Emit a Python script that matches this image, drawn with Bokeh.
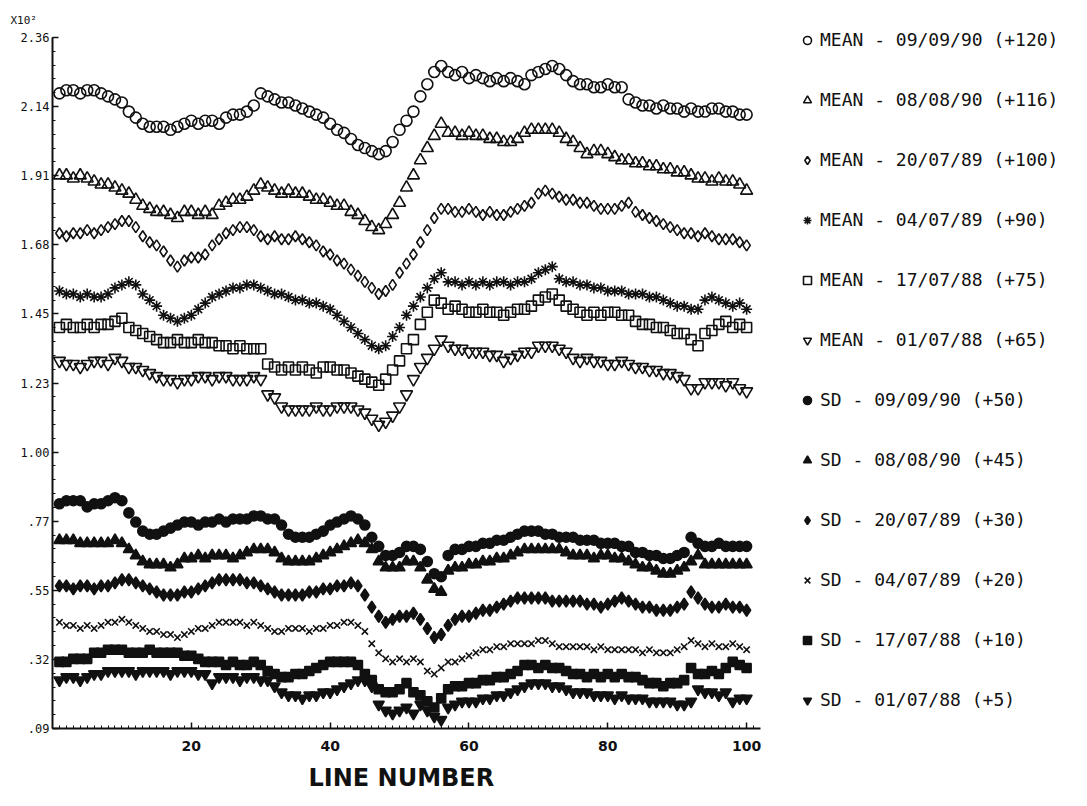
from bokeh.plotting import figure
from bokeh.models import (Range1d, FixedTicker, CustomJSTickFormatter, Legend,
                          LegendItem, ColumnDataSource, Title)
from bokeh.embed import file_html
from bokeh.resources import INLINE

# ---------------- data (values in units of x10^2) ----------------
line_number = list(range(1, 101))

mean_090990 = [2.18, 2.19, 2.19, 2.18, 2.19, 2.19, 2.18, 2.17,
               2.16, 2.15, 2.12, 2.10,
               2.08, 2.07, 2.07, 2.07, 2.06, 2.07,
               2.08, 2.09, 2.08, 2.09, 2.09, 2.08,
               2.10, 2.11, 2.11, 2.12, 2.14,
               2.18, 2.17,
               2.16, 2.15, 2.15, 2.14, 2.13, 2.12,
               2.11, 2.10, 2.08, 2.06, 2.05,
               2.03, 2.01, 2.00, 1.99, 1.98,
               1.99, 2.02, 2.06, 2.09, 2.12, 2.17, 2.21, 2.25, 2.27,
               2.25, 2.24, 2.25, 2.23, 2.24, 2.23, 2.22, 2.23, 2.22, 2.23, 2.22, 2.21,
               2.24, 2.25, 2.26, 2.27,
               2.26, 2.24, 2.22, 2.21, 2.21, 2.20, 2.20, 2.21, 2.20, 2.20,
               2.16, 2.15, 2.14,
               2.14, 2.13, 2.14, 2.13, 2.13, 2.12, 2.13, 2.12, 2.12, 2.13, 2.13, 2.12, 2.12, 2.11, 2.11]

mean_080890 = [1.91, 1.91, 1.90, 1.91, 1.90,
               1.89, 1.88, 1.88, 1.87, 1.86,
               1.85, 1.83, 1.81, 1.80,
               1.79, 1.79, 1.78, 1.77, 1.79, 1.79, 1.78, 1.79, 1.78,
               1.81, 1.82, 1.83, 1.83, 1.84, 1.86,
               1.88, 1.87,
               1.86, 1.85, 1.86, 1.85, 1.85, 1.84,
               1.83, 1.83, 1.82, 1.81, 1.81,
               1.79, 1.78, 1.76, 1.74, 1.73,
               1.75, 1.78, 1.82, 1.87, 1.91, 1.96, 2.00, 2.04, 2.08,
               2.05, 2.05, 2.04, 2.05, 2.04, 2.04, 2.03, 2.03,
               2.02, 2.02, 2.03,
               2.05, 2.06, 2.06, 2.06, 2.06, 2.05,
               2.03, 2.02, 2.00, 1.98, 1.99,
               1.99, 1.98, 1.97, 1.96, 1.96, 1.95,
               1.95, 1.94, 1.94, 1.93, 1.93, 1.92, 1.92, 1.91,
               1.90, 1.90, 1.89, 1.90, 1.89,
               1.89, 1.88, 1.86]

mean_200789 = [1.72, 1.71, 1.72,
               1.72, 1.73, 1.72, 1.73, 1.74, 1.75,
               1.76, 1.76, 1.74,
               1.71, 1.69, 1.68, 1.66,
               1.63, 1.61,
               1.63, 1.64, 1.64, 1.65,
               1.68, 1.70, 1.72, 1.73,
               1.74, 1.74, 1.73,
               1.71, 1.70, 1.71, 1.70, 1.70,
               1.71, 1.70, 1.69,
               1.68, 1.66, 1.65, 1.63, 1.62,
               1.60, 1.58, 1.56, 1.54,
               1.52, 1.53,
               1.55, 1.59, 1.62, 1.65, 1.69, 1.73, 1.77, 1.80,
               1.80, 1.79, 1.79, 1.80, 1.79, 1.78, 1.79, 1.78, 1.78, 1.79,
               1.80, 1.81, 1.82,
               1.85, 1.86,
               1.85, 1.84, 1.83, 1.83, 1.82, 1.82, 1.81, 1.80, 1.80,
               1.80, 1.81, 1.82,
               1.79, 1.78, 1.77, 1.76, 1.75, 1.74, 1.73, 1.72,
               1.72, 1.71, 1.72, 1.71, 1.70, 1.70,
               1.70, 1.69, 1.68]

mean_040789 = [1.53, 1.52, 1.52,
               1.51, 1.52, 1.51, 1.51, 1.52,
               1.54, 1.55, 1.56, 1.55,
               1.52, 1.50, 1.48,
               1.45, 1.44, 1.43, 1.44, 1.45,
               1.47, 1.49, 1.51, 1.52,
               1.53, 1.54, 1.54, 1.55, 1.55,
               1.54, 1.53, 1.52, 1.52, 1.51,
               1.50, 1.50, 1.49, 1.49, 1.48, 1.47,
               1.45, 1.43, 1.41, 1.39, 1.37, 1.35,
               1.34, 1.35,
               1.38, 1.41, 1.45, 1.48, 1.51, 1.54, 1.57, 1.59,
               1.56, 1.56, 1.55, 1.56, 1.55, 1.56, 1.55, 1.56, 1.56, 1.55, 1.56, 1.56,
               1.57, 1.59, 1.60, 1.61,
               1.57, 1.56, 1.56, 1.55, 1.55, 1.54, 1.54, 1.53,
               1.53, 1.53, 1.52, 1.52, 1.52, 1.51, 1.51, 1.50,
               1.49, 1.48, 1.48, 1.47, 1.47,
               1.50, 1.51, 1.50,
               1.49, 1.48, 1.49, 1.47]

mean_170788 = [1.41, 1.42, 1.41, 1.41, 1.42, 1.41, 1.42, 1.42,
               1.43, 1.44,
               1.41, 1.40, 1.39,
               1.38, 1.37,
               1.36, 1.36, 1.37, 1.36, 1.36, 1.37, 1.36, 1.36, 1.35,
               1.35, 1.34, 1.35, 1.34, 1.34, 1.34,
               1.29, 1.28, 1.27, 1.28, 1.27, 1.28, 1.27, 1.26,
               1.28, 1.28, 1.27, 1.27,
               1.26, 1.25, 1.24, 1.23, 1.22,
               1.24, 1.27, 1.30, 1.34, 1.37, 1.42, 1.46, 1.50, 1.49,
               1.47, 1.48, 1.47, 1.46, 1.46, 1.47, 1.46, 1.46, 1.45, 1.46, 1.47, 1.47, 1.48,
               1.50, 1.51, 1.52,
               1.50, 1.48, 1.47, 1.46, 1.45, 1.46, 1.45, 1.46, 1.46, 1.45, 1.45,
               1.43, 1.42, 1.42, 1.41, 1.41, 1.40, 1.39, 1.39, 1.37, 1.35,
               1.39, 1.40, 1.42, 1.43, 1.41, 1.42, 1.41]

mean_010788 = [1.30, 1.29, 1.29, 1.28, 1.29,
               1.30, 1.30, 1.29, 1.31,
               1.30, 1.28, 1.28, 1.27,
               1.26, 1.25, 1.24, 1.24, 1.23, 1.24, 1.24,
               1.25, 1.25, 1.24, 1.25, 1.25,
               1.24, 1.24, 1.24, 1.25, 1.24,
               1.19, 1.18,
               1.15, 1.14, 1.14, 1.14, 1.14, 1.15, 1.14, 1.14,
               1.15, 1.15, 1.15, 1.14, 1.13,
               1.11, 1.09, 1.10, 1.12,
               1.15, 1.19, 1.24, 1.28, 1.31, 1.34, 1.37,
               1.35, 1.34, 1.34, 1.33, 1.33, 1.33, 1.32, 1.32,
               1.30, 1.31, 1.32, 1.33, 1.33,
               1.35, 1.35, 1.35, 1.34,
               1.33, 1.31, 1.30, 1.31, 1.30,
               1.30, 1.29, 1.29, 1.30, 1.29, 1.28, 1.28,
               1.27, 1.27, 1.26, 1.26, 1.25, 1.24, 1.21,
               1.21, 1.23, 1.23, 1.23,
               1.22, 1.23, 1.21, 1.20]

sd_090990 = [0.83, 0.84, 0.84, 0.84,
             0.82, 0.83, 0.83,
             0.84, 0.85, 0.84,
             0.80, 0.77,
             0.74, 0.73, 0.73, 0.74,
             0.75, 0.76, 0.77, 0.77, 0.76,
             0.77, 0.77, 0.78, 0.77, 0.78, 0.78, 0.78,
             0.79, 0.79, 0.78, 0.78,
             0.76,
             0.73, 0.72, 0.72, 0.72, 0.73, 0.74,
             0.76, 0.77, 0.78, 0.79, 0.78,
             0.76, 0.72, 0.69,
             0.66, 0.66, 0.67,
             0.69, 0.69, 0.68,
             0.64, 0.60, 0.59,
             0.66, 0.68, 0.68, 0.69, 0.69, 0.70, 0.70, 0.71, 0.71,
             0.72, 0.73, 0.74, 0.74, 0.74,
             0.73, 0.73, 0.72, 0.72, 0.72, 0.71, 0.71, 0.71, 0.70, 0.70, 0.70,
             0.69, 0.69,
             0.67, 0.67, 0.66, 0.66, 0.65, 0.65, 0.66,
             0.67, 0.72, 0.70,
             0.69, 0.69, 0.70, 0.69, 0.69, 0.69, 0.69]

sd_080890 = [0.71, 0.71, 0.71, 0.70, 0.70, 0.70, 0.70, 0.70,
             0.71, 0.70,
             0.68, 0.66, 0.64,
             0.63, 0.63, 0.63, 0.62, 0.63,
             0.65, 0.65, 0.66, 0.65, 0.66, 0.66, 0.66, 0.65, 0.66, 0.67,
             0.68, 0.68, 0.68, 0.67,
             0.65, 0.64, 0.64, 0.64, 0.64, 0.65,
             0.66, 0.67, 0.68, 0.69, 0.70,
             0.71, 0.70, 0.68,
             0.64, 0.62, 0.62, 0.62,
             0.64, 0.64, 0.62,
             0.58, 0.55, 0.54,
             0.61, 0.62, 0.62, 0.63, 0.63, 0.64, 0.64, 0.65, 0.65, 0.66, 0.67,
             0.68, 0.68, 0.68, 0.68, 0.68, 0.68, 0.67,
             0.66, 0.66, 0.66, 0.65, 0.66, 0.66, 0.65, 0.65, 0.64,
             0.63, 0.62, 0.62, 0.61, 0.60, 0.60, 0.61,
             0.62, 0.64, 0.66,
             0.63, 0.63, 0.63, 0.63, 0.63, 0.63, 0.63]

sd_200789 = [0.56, 0.56, 0.55, 0.56, 0.56, 0.55, 0.56, 0.56,
             0.57, 0.58, 0.58,
             0.57, 0.56, 0.55,
             0.54, 0.53, 0.53, 0.53,
             0.54, 0.54, 0.55, 0.56,
             0.57, 0.58, 0.58, 0.58, 0.58, 0.57, 0.57,
             0.56, 0.55, 0.54, 0.53, 0.53, 0.53,
             0.53, 0.54, 0.54, 0.55, 0.55, 0.56, 0.56, 0.57,
             0.56, 0.53, 0.49, 0.46, 0.44,
             0.45, 0.46, 0.46, 0.47, 0.45,
             0.42, 0.39, 0.40, 0.43,
             0.45, 0.46, 0.46, 0.47, 0.48, 0.48, 0.49, 0.50,
             0.51, 0.52, 0.52, 0.52, 0.52, 0.52,
             0.51, 0.51, 0.51, 0.51, 0.51, 0.50, 0.50, 0.49, 0.50,
             0.51, 0.52, 0.51,
             0.50, 0.49, 0.49, 0.48, 0.48, 0.48, 0.49,
             0.50, 0.54, 0.52,
             0.50, 0.49, 0.49, 0.50, 0.49, 0.49, 0.48]

sd_040789 = [0.44, 0.43, 0.43, 0.42, 0.43, 0.42, 0.43,
             0.44, 0.44, 0.45,
             0.44, 0.43,
             0.42, 0.41, 0.41, 0.40, 0.40,
             0.39,
             0.40, 0.41, 0.42, 0.42,
             0.43, 0.44, 0.44, 0.44, 0.44, 0.43, 0.44,
             0.43, 0.42,
             0.41, 0.41, 0.42, 0.42, 0.42, 0.41, 0.42, 0.42,
             0.43, 0.43, 0.44, 0.44, 0.43,
             0.41,
             0.37, 0.34, 0.32,
             0.31, 0.32, 0.31, 0.32, 0.31,
             0.28, 0.27,
             0.29, 0.31, 0.31, 0.32, 0.33, 0.34, 0.35,
             0.35, 0.36, 0.36, 0.37, 0.37, 0.37, 0.37, 0.38,
             0.38, 0.37,
             0.36, 0.36, 0.36, 0.36, 0.36, 0.35, 0.36, 0.35, 0.35, 0.35, 0.35, 0.35,
             0.34, 0.35, 0.34, 0.34, 0.34, 0.35,
             0.36, 0.38, 0.37,
             0.36, 0.37, 0.36, 0.36, 0.37, 0.36, 0.35]

sd_170788 = [0.31, 0.31, 0.32, 0.32, 0.32,
             0.34, 0.34, 0.35, 0.35, 0.35, 0.34, 0.34, 0.34, 0.35, 0.34, 0.34, 0.34, 0.34,
             0.33, 0.33, 0.32,
             0.31, 0.31, 0.31, 0.30, 0.31, 0.30, 0.30, 0.31, 0.30,
             0.28, 0.27, 0.26, 0.26, 0.27, 0.27, 0.28,
             0.29, 0.30, 0.31, 0.31, 0.31, 0.31, 0.30,
             0.27, 0.25,
             0.22, 0.21, 0.21, 0.22, 0.24,
             0.21, 0.20, 0.18, 0.16, 0.19,
             0.22, 0.23, 0.23, 0.24, 0.24, 0.25, 0.25, 0.26, 0.26,
             0.27, 0.28,
             0.30, 0.30, 0.29, 0.30, 0.29, 0.29,
             0.28, 0.27, 0.27, 0.26, 0.27, 0.26, 0.27, 0.26, 0.27, 0.26, 0.26,
             0.25, 0.24, 0.24, 0.23, 0.24, 0.24, 0.25,
             0.29, 0.27, 0.27, 0.28, 0.27,
             0.29, 0.31, 0.30, 0.29]

sd_010788 = [0.25, 0.26, 0.26, 0.25, 0.26, 0.27,
             0.27, 0.28, 0.28, 0.28, 0.28, 0.27, 0.28, 0.28, 0.28, 0.28, 0.27, 0.28,
             0.28, 0.28, 0.27, 0.27,
             0.24, 0.26,
             0.26, 0.26, 0.25, 0.26, 0.26, 0.25, 0.25,
             0.23, 0.21, 0.20, 0.20, 0.19, 0.20, 0.20, 0.21, 0.21,
             0.22, 0.23, 0.24, 0.25, 0.25, 0.23,
             0.17, 0.15, 0.14, 0.15, 0.16, 0.14,
             0.17, 0.15, 0.13, 0.12,
             0.16, 0.17, 0.18, 0.18, 0.18, 0.19, 0.19, 0.20, 0.20,
             0.21, 0.22,
             0.23, 0.24, 0.24, 0.24, 0.23, 0.23,
             0.22, 0.21, 0.21, 0.21, 0.20, 0.20, 0.20, 0.19, 0.20, 0.19, 0.19,
             0.19, 0.18, 0.18, 0.18, 0.18, 0.17, 0.17, 0.18,
             0.22, 0.21,
             0.21, 0.20, 0.21, 0.18, 0.19, 0.19]

labels = ["MEAN - 09/09/90 (+120)", "MEAN - 08/08/90 (+116)", "MEAN - 20/07/89 (+100)",
          "MEAN - 04/07/89 (+90)", "MEAN - 17/07/88 (+75)", "MEAN - 01/07/88 (+65)",
          "SD - 09/09/90 (+50)", "SD - 08/08/90 (+45)", "SD - 20/07/89 (+30)",
          "SD - 04/07/89 (+20)", "SD - 17/07/88 (+10)", "SD - 01/07/88 (+5)"]

series = [mean_090990, mean_080890, mean_200789, mean_040789, mean_170788, mean_010788,
          sd_090990, sd_080890, sd_200789, sd_040789, sd_170788, sd_010788]

# ---------------- styles ----------------
styles = [("circle", False, 11), ("triangle", False, 12), ("diamond", False, 11),
          ("asterisk", False, 11), ("square", False, 10), ("inverted_triangle", False, 12),
          ("circle", True, 10), ("triangle", True, 11), ("diamond", True, 12),
          ("x", False, 9), ("square", True, 9), ("inverted_triangle", True, 11)]

INK = "#111111"

# layout: the frame spans from the y axis to the right edge (and a little above the
# top tick) so the legend, drawn inside the frame, is not clipped; axes are bounded.
W, H = 1087, 806
LEFT, TOP, BOTTOM = 52, 26, 78
AXIS_TOP_PX = 37                 # pixel row of the top tick (2.36)
DATA_W = 708                     # pixel width of the x extent 0..102
DATA_H = H - BOTTOM - AXIS_TOP_PX
X_MAX = 102
Y_MIN, Y_MAX = 1 / 11, 26 / 11
x_end = X_MAX * (W - LEFT) / DATA_W
y_end = Y_MIN + (Y_MAX - Y_MIN) * (H - BOTTOM - TOP) / DATA_H

p = figure(width=W, height=H,
           x_range=Range1d(0, x_end), y_range=Range1d(Y_MIN, y_end),
           output_backend="svg", toolbar_location=None,
           min_border_left=LEFT, min_border_right=0,
           min_border_top=TOP, min_border_bottom=BOTTOM)
p.outline_line_color = None
p.xgrid.visible = False
p.ygrid.visible = False
p.background_fill_color = "white"
p.border_fill_color = "white"

# "X10²" multiplier shown above the y axis
p.title.text = "X10²"
p.title.align = "left"
p.title.offset = -42
p.title.standoff = 0
p.title.text_font = "DejaVu Sans Mono"
p.title.text_font_size = "11px"
p.title.text_font_style = "normal"
p.title.text_color = INK

items = []
for lab, vals, (marker, filled, size) in zip(labels, series, styles):
    src = ColumnDataSource(dict(x=line_number, y=vals))
    r = p.scatter("x", "y", source=src, marker=marker, size=size,
                  line_color=INK, line_width=1.6,
                  fill_color=INK if filled else None)
    items.append(LegendItem(label=lab, renderers=[r]))

# axes
y_ticks = [(1 + 2.5 * k) / 11 for k in range(11)]
y_minor = [(1 + 0.5 * k) / 11 for k in range(51)]
p.yaxis.ticker = FixedTicker(ticks=y_ticks, minor_ticks=y_minor)
p.yaxis.formatter = CustomJSTickFormatter(code="return tick.toFixed(2).replace(/^0/, '');")
p.xaxis.ticker = FixedTicker(ticks=[20, 40, 60, 80, 100], minor_ticks=list(range(0, 102)))
p.xaxis.bounds = (0, X_MAX)
p.yaxis.bounds = (Y_MIN, Y_MAX)

for ax in (p.xaxis[0], p.yaxis[0]):
    ax.axis_line_width = 2
    ax.axis_line_color = INK
    ax.major_tick_line_color = INK
    ax.minor_tick_line_color = INK
    ax.major_tick_line_width = 1.5
    ax.major_tick_in = 6
    ax.major_tick_out = 0
    ax.minor_tick_in = 3
    ax.minor_tick_out = 0
    ax.major_label_text_color = INK

p.yaxis.major_label_text_font = "DejaVu Sans Mono"
p.yaxis.major_label_text_font_size = "12px"
p.yaxis.major_label_standoff = 3

p.xaxis.major_label_text_font = "DejaVu Sans"
p.xaxis.major_label_text_font_style = "bold"
p.xaxis.major_label_text_font_size = "14px"
p.xaxis.major_label_standoff = 12

# x-axis title, centred under the data region (not under the whole frame)
xlab = Title(text="LINE  NUMBER", align="left", offset=256, standoff=16,
             text_font="DejaVu Sans", text_font_style="bold",
             text_font_size="24px", text_color=INK)
p.add_layout(xlab, "below")

legend = Legend(items=items, location=(745, 18), glyph_width=20, glyph_height=20,
                label_height=20, spacing=39, padding=0, margin=0,
                border_line_color=None, background_fill_alpha=0,
                label_text_font="DejaVu Sans Mono", label_text_font_size="18px",
                label_text_color=INK, label_standoff=3)
p.add_layout(legend)

open("out.html", "w").write(file_html(p, INLINE))
